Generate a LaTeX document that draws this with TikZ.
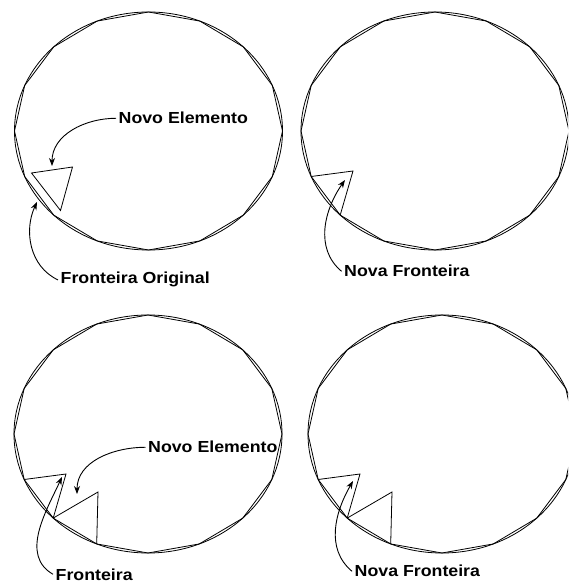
\documentclass[tikz,border=0pt]{standalone}
\usepackage{fontspec}
\usetikzlibrary{arrows.meta}
\newfontfamily\lblfont[FakeStretch=1.11]{Liberation Sans}

\begin{document}
\begin{tikzpicture}[x=1pt, y=1pt,
    edge/.style={black, line width=0.8pt, line join=miter},
    lbl/.style={font=\lblfont\bfseries\fontsize{16}{17}\selectfont, inner sep=2.5pt, anchor=base west},
    pointer/.style={black, line width=0.9pt, -{Stealth[length=8pt, width=6pt]}}]
  \def\rx{134}
  \def\ry{119}

  % Bounding box = page, the right-hand ellipses run slightly off it
  \useasboundingbox (0,0) rectangle (568,584);
  \clip (0,0) rectangle (568,584);

  % ---- BOUNDARY: ellipse with its inscribed 16-gon, one per panel ----
  \foreach \cx/\cy in {148.5/453, 435/453, 148/150, 442/150} {
    \draw[edge] (\cx,\cy) ellipse [x radius=\rx, y radius=\ry];
    \draw[edge] plot[domain=0:337.5, samples=16]
      ({\cx+\rx*cos(\x)}, {\cy+\ry*sin(\x)}) -- cycle;
  }

  % ---- PANEL 1: new element still apart from the boundary ----
  \begin{scope}[shift={(148.5,453)}]
    \draw[edge] (-117,-42) -- (-76,-36) -- (-88,-79.5) -- cycle;
  \end{scope}
  \node[lbl] (novo1) at (116,460) {Novo Elemento};
  \coordinate (tipN1) at (52,418);
  \draw[pointer] (novo1.west) to[out=180, in=90] (tipN1);
  \node[lbl] (front1) at (58,300) {Fronteira Original};
  \coordinate (tipF1) at (37,382);
  \draw[pointer] (front1.west) to[out=155, in=245] (tipF1);

  % ---- PANEL 2: element joined to the boundary ----
  \begin{scope}[shift={(435,453)}]
    \draw[edge] (-123.8,-45.5) -- (-82,-40) -- (-94.8,-84.1);
  \end{scope}
  \node[lbl] (nova2) at (341.5,307) {Nova Fronteira};
  \coordinate (tipN2) at (345,404);
  \draw[pointer] (nova2.west) to[out=140, in=235] (tipN2);

  % ---- PANEL 3: second element on the next edge ----
  \begin{scope}[shift={(148,150)}]
    \draw[edge] (-123.8,-45.5) -- (-82,-40) -- (-94.8,-84.1);
    \draw[edge] (-94.8,-84.1) -- (-50,-58) -- (-51.3,-109.9);
  \end{scope}
  \node[lbl] (novo3) at (145.5,131) {Novo Elemento};
  \coordinate (tipN3) at (77,90);
  \draw[pointer] (novo3.west) to[out=180, in=90] (tipN3);
  \node[lbl] (front3) at (53,4) {Fronteira};
  \coordinate (tipF3) at (62,107);
  \draw[pointer] (front3.west) to[out=150, in=245] (tipF3);

  % ---- PANEL 4: both elements part of the boundary ----
  \begin{scope}[shift={(442,150)}]
    \draw[edge] (-123.8,-45.5) -- (-82,-40) -- (-94.8,-84.1);
    \draw[edge] (-94.8,-84.1) -- (-50,-58) -- (-51.3,-109.9);
  \end{scope}
  \node[lbl] (nova4) at (352,7) {Nova Fronteira};
  \coordinate (tipN4) at (353,103);
  \draw[pointer] (nova4.west) to[out=140, in=240] (tipN4);
\end{tikzpicture}
\end{document}
